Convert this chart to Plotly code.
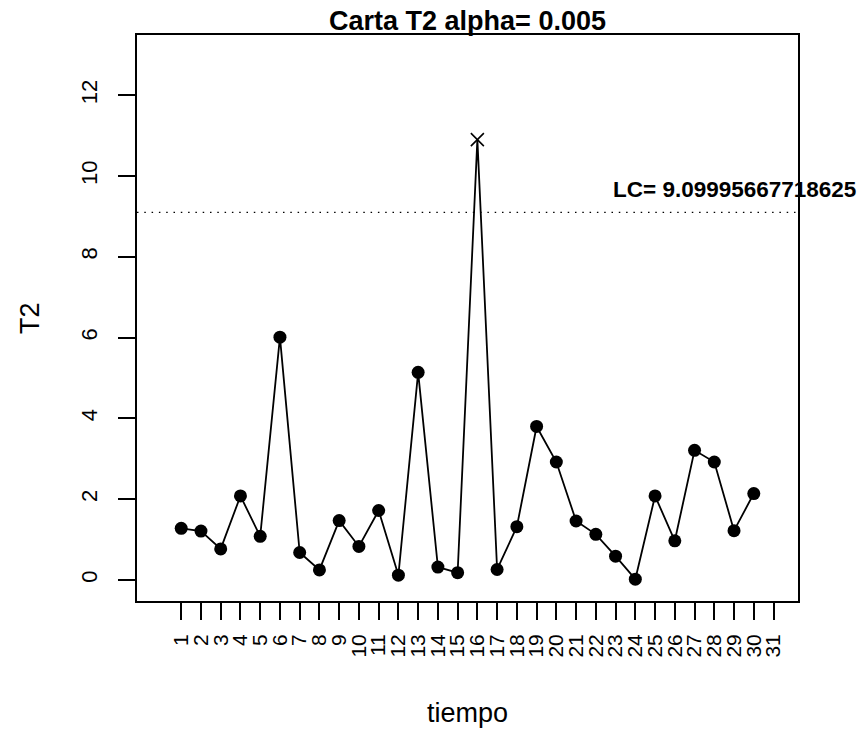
import plotly.graph_objects as go

# T2 statistic per time period
tiempo = list(range(1, 31))
t2 = [1.28, 1.21, 0.77, 2.08, 1.08, 6.01, 0.68, 0.25, 1.47, 0.83,
      1.72, 0.12, 5.14, 0.32, 0.18, 10.90, 0.26, 1.32, 3.80, 2.92,
      1.46, 1.13, 0.59, 0.02, 2.08, 0.97, 3.21, 2.92, 1.22, 2.14]
x_ticks = list(range(1, 32))
y_ticks = [0, 2, 4, 6, 8, 10, 12]
alpha = 0.005
LC = 9.09995667718625

FONT = "Liberation Sans, Arial, Helvetica, sans-serif"

# points above the limit get an "x", the rest a filled dot
in_ctrl = [(x, y) for x, y in zip(tiempo, t2) if y <= LC]
out_ctrl = [(x, y) for x, y in zip(tiempo, t2) if y > LC]

fig = go.Figure()

fig.add_trace(go.Scatter(x=tiempo, y=t2, mode="lines",
                         line=dict(color="black", width=1.8),
                         showlegend=False, hoverinfo="skip"))
fig.add_trace(go.Scatter(x=[p[0] for p in in_ctrl], y=[p[1] for p in in_ctrl],
                         mode="markers",
                         marker=dict(color="black", size=13, symbol="circle"),
                         showlegend=False))
fig.add_trace(go.Scatter(x=[p[0] for p in out_ctrl], y=[p[1] for p in out_ctrl],
                         mode="markers",
                         marker=dict(color="black", size=13, symbol="x-thin-open",
                                     line=dict(color="black", width=1.6)),
                         showlegend=False))

# control limit
fig.add_shape(type="line", xref="paper", x0=0, x1=1, yref="y", y0=LC, y1=LC,
              line=dict(color="black", width=1.3, dash="1.5px,5.8px"))
fig.add_annotation(x=29, y=9.67, xref="x", yref="y", text="<b>LC= " + str(LC) + "</b>",
                   showarrow=False, xanchor="center", yanchor="middle",
                   font=dict(family=FONT, size=22.5, color="black"))

# axis titles
fig.add_annotation(x=0.5, y=0, xref="paper", yref="paper", text="tiempo",
                   showarrow=False, xanchor="center", yanchor="middle", yshift=-112,
                   font=dict(family=FONT, size=27, color="black"))
fig.add_annotation(x=0, y=0.5, xref="paper", yref="paper", text="T2",
                   showarrow=False, xanchor="center", yanchor="middle", xshift=-107,
                   textangle=-90, font=dict(family=FONT, size=27, color="black"))

fig.update_layout(
    width=861, height=733,
    margin=dict(l=137, r=63, t=35, b=132),
    paper_bgcolor="white", plot_bgcolor="white",
    font=dict(family=FONT, color="black"),
    title=dict(text="<b>Carta T2 alpha= " + str(alpha) + "</b>",
               x=0.5, xref="paper", xanchor="center",
               y=1 - 21 / 733, yref="container", yanchor="middle",
               font=dict(family=FONT, size=27, color="black")),
    showlegend=False,
)

fig.update_xaxes(range=[-1.24, 32.24], tickmode="array", tickvals=x_ticks,
                 ticktext=[str(v) for v in x_ticks], tickangle=-90,
                 tickfont=dict(family=FONT, size=21, color="black"),
                 ticks="outside", ticklen=17, tickwidth=1.5, tickcolor="black",
                 ticklabelstandoff=6,
                 showline=True, linecolor="black", linewidth=1.6, mirror=True,
                 showgrid=False, zeroline=False)
fig.update_yaxes(range=[-0.52, 13.49], tickmode="array", tickvals=y_ticks,
                 ticktext=[str(v) for v in y_ticks], tickangle=-90,
                 tickfont=dict(family=FONT, size=22, color="black"),
                 ticks="outside", ticklen=17, tickwidth=1.5, tickcolor="black",
                 ticklabelstandoff=12,
                 showline=True, linecolor="black", linewidth=1.6, mirror=True,
                 showgrid=False, zeroline=False)

# drop the browser's default body margin so the figure sits at (0, 0)
fig.write_html("out.html", config={"displayModeBar": False},
               post_script="document.body.style.margin='0';document.body.style.overflow='hidden';")
